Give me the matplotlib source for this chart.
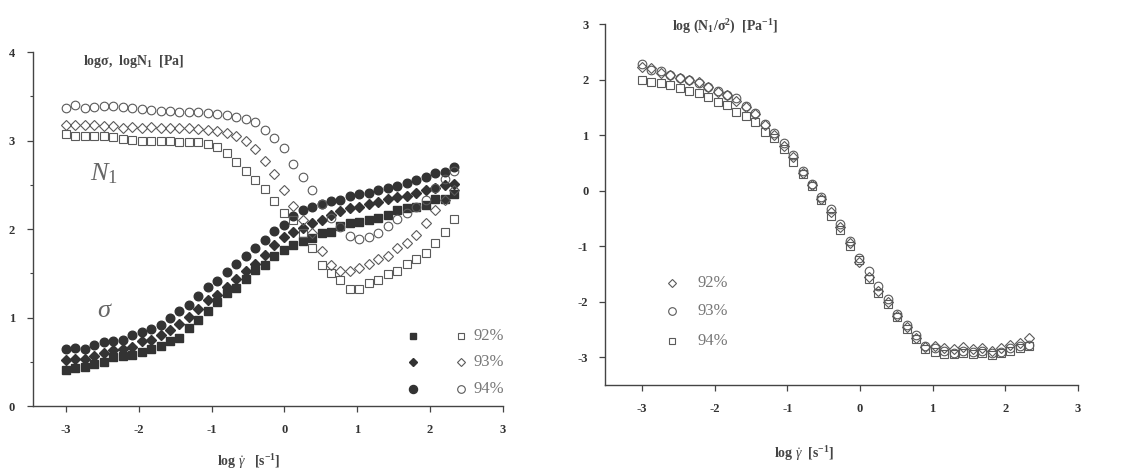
import matplotlib
matplotlib.use('Agg')
import matplotlib.pyplot as plt

plt.rcParams['font.family'] = ['Liberation Serif', 'DejaVu Serif']
plt.rcParams['mathtext.fontset'] = 'custom'
plt.rcParams['mathtext.rm'] = 'Liberation Serif'
plt.rcParams['mathtext.it'] = 'Liberation Serif:italic'
plt.rcParams['mathtext.bf'] = 'Liberation Serif:bold'
plt.rcParams['axes.unicode_minus'] = False

# shear rate grid, log(gamma dot) [1/s]
log_rate = [-3.00, -2.87, -2.74, -2.61, -2.48, -2.35, -2.22, -2.09, -1.96, -1.83,
            -1.70, -1.57, -1.44, -1.31, -1.18, -1.05, -0.92, -0.79, -0.66, -0.53,
            -0.40, -0.27, -0.14, -0.01, 0.12, 0.25, 0.38, 0.51, 0.64, 0.77,
            0.90, 1.03, 1.16, 1.29, 1.42, 1.55, 1.68, 1.81, 1.94, 2.07, 2.20, 2.33]

# log sigma [Pa]
sigma_92 = [0.41, 0.43, 0.44, 0.48, 0.50, 0.55, 0.56, 0.58, 0.61, 0.64,
            0.68, 0.73, 0.77, 0.88, 0.97, 1.07, 1.18, 1.28, 1.33, 1.44,
            1.54, 1.59, 1.69, 1.76, 1.82, 1.87, 1.90, 1.95, 1.97, 2.03,
            2.07, 2.08, 2.10, 2.12, 2.16, 2.21, 2.24, 2.25, 2.27, 2.34, 2.34, 2.39]
sigma_93 = [0.52, 0.53, 0.53, 0.57, 0.60, 0.63, 0.64, 0.67, 0.73, 0.75,
            0.80, 0.86, 0.93, 1.01, 1.10, 1.20, 1.26, 1.35, 1.44, 1.53,
            1.61, 1.71, 1.82, 1.91, 1.97, 2.01, 2.07, 2.10, 2.16, 2.20,
            2.24, 2.25, 2.28, 2.31, 2.34, 2.36, 2.37, 2.41, 2.44, 2.46, 2.50, 2.51]
sigma_94 = [0.64, 0.65, 0.64, 0.69, 0.72, 0.73, 0.75, 0.80, 0.84, 0.87,
            0.92, 0.99, 1.07, 1.14, 1.24, 1.35, 1.41, 1.51, 1.60, 1.70,
            1.78, 1.88, 1.98, 2.05, 2.15, 2.21, 2.25, 2.28, 2.32, 2.33,
            2.37, 2.39, 2.41, 2.44, 2.46, 2.49, 2.52, 2.55, 2.59, 2.63, 2.64, 2.70]

# log N1 [Pa]
n1_92 = [3.07, 3.05, 3.05, 3.05, 3.05, 3.04, 3.02, 3.01, 3.00, 3.00,
         3.00, 2.99, 2.98, 2.98, 2.98, 2.96, 2.93, 2.86, 2.76, 2.66,
         2.55, 2.45, 2.32, 2.18, 2.10, 1.96, 1.78, 1.59, 1.50, 1.42,
         1.32, 1.32, 1.39, 1.42, 1.49, 1.53, 1.61, 1.66, 1.73, 1.84, 1.97, 2.11]
n1_93 = [3.17, 3.18, 3.17, 3.18, 3.16, 3.16, 3.14, 3.15, 3.14, 3.15,
         3.14, 3.14, 3.14, 3.14, 3.13, 3.12, 3.11, 3.08, 3.05, 2.99,
         2.90, 2.77, 2.62, 2.44, 2.26, 2.10, 1.95, 1.75, 1.59, 1.52,
         1.52, 1.56, 1.61, 1.66, 1.69, 1.78, 1.84, 1.93, 2.07, 2.22, 2.33, 2.44]
n1_94 = [3.37, 3.40, 3.37, 3.38, 3.39, 3.39, 3.38, 3.37, 3.36, 3.34,
         3.33, 3.33, 3.32, 3.32, 3.32, 3.31, 3.30, 3.29, 3.27, 3.24,
         3.21, 3.12, 3.03, 2.91, 2.73, 2.59, 2.44, 2.28, 2.12, 2.02,
         1.92, 1.89, 1.91, 1.95, 2.03, 2.11, 2.18, 2.25, 2.33, 2.46, 2.56, 2.65]

# log(N1/sigma^2) [1/Pa]
ratio_92 = [2.22, 2.20, 2.12, 2.08, 2.03, 2.00, 1.96, 1.86, 1.78, 1.72,
            1.62, 1.50, 1.38, 1.18, 1.00, 0.80, 0.60, 0.32, 0.10, -0.15,
            -0.38, -0.65, -0.95, -1.28, -1.55, -1.80, -2.00, -2.25, -2.45, -2.65,
            -2.82, -2.80, -2.83, -2.85, -2.82, -2.85, -2.84, -2.88, -2.83, -2.78, -2.74, -2.66]
ratio_93 = [2.28, 2.18, 2.16, 2.09, 2.02, 1.99, 1.94, 1.87, 1.80, 1.73,
            1.66, 1.52, 1.40, 1.20, 1.04, 0.86, 0.64, 0.36, 0.12, -0.12,
            -0.33, -0.60, -0.90, -1.22, -1.45, -1.72, -1.95, -2.22, -2.42, -2.60,
            -2.80, -2.84, -2.88, -2.92, -2.88, -2.90, -2.88, -2.93, -2.90, -2.84, -2.80, -2.78]
ratio_94 = [1.99, 1.96, 1.93, 1.91, 1.85, 1.80, 1.76, 1.68, 1.60, 1.55,
            1.42, 1.35, 1.24, 1.05, 0.95, 0.75, 0.52, 0.30, 0.08, -0.16,
            -0.45, -0.70, -1.00, -1.25, -1.60, -1.85, -2.05, -2.28, -2.50, -2.68,
            -2.86, -2.90, -2.94, -2.95, -2.92, -2.94, -2.92, -2.96, -2.92, -2.88, -2.84, -2.80]

labels = ['92%', '93%', '94%']

dark = '#333333'
grey = '#5a5a5a'
txt_grey = '#777777'

fig = plt.figure(figsize=(11.27, 4.72), dpi=100)
ax1 = fig.add_axes([0.0293, 0.1398, 0.4170, 0.7500])
ax2 = fig.add_axes([0.5368, 0.1843, 0.4197, 0.7648])


def style_axis(ax):
    for s in ['top', 'right']:
        ax.spines[s].set_visible(False)
    for s in ['left', 'bottom']:
        ax.spines[s].set_color('#444444')
        ax.spines[s].set_linewidth(1.0)
    ax.tick_params(direction='out', length=4, width=0.9, color='#444444',
                   labelsize=9, labelcolor=dark, pad=9)
    ax.tick_params(which='minor', direction='out', length=2.5, width=0.8, color='#444444')
    for lab in ax.get_xticklabels() + ax.get_yticklabels():
        lab.set_fontweight('bold')


# ---- left panel: sigma and N1 ----
ax1.plot(log_rate, sigma_92, 's', ms=5.5, color=dark, mec=dark, clip_on=False)
ax1.plot(log_rate, sigma_93, 'D', ms=4.8, color=dark, mec=dark, clip_on=False)
ax1.plot(log_rate, sigma_94, 'o', ms=6.2, color=dark, mec=dark, clip_on=False)
ax1.plot(log_rate, n1_92, 's', ms=5.5, mfc='none', mec=grey, mew=0.8, clip_on=False)
ax1.plot(log_rate, n1_93, 'D', ms=5.0, mfc='none', mec=grey, mew=0.8, clip_on=False)
ax1.plot(log_rate, n1_94, 'o', ms=6.2, mfc='none', mec=grey, mew=0.8, clip_on=False)

ax1.set_xlim(-3.45, 3)
ax1.set_ylim(0, 4)
ax1.set_xticks([-3, -2, -1, 0, 1, 2, 3])
ax1.set_yticks([0, 1, 2, 3, 4])
ax1.set_yticks([0.5, 1.5, 2.5, 3.5], minor=True)
style_axis(ax1)
ax1.tick_params(axis='y', pad=9)

ax1.text(-2.77, 3.89, 'logσ,  logN$_{\\mathbf{1}}$  [Pa]', fontsize=10,
         fontweight='bold', color='#444444', va='center', ha='left')
ax1.text(-2.48, 2.63, r'$N_1$', fontsize=19, color='#666666', ha='center', va='center')
ax1.text(-2.46, 1.07, r'$\sigma$', fontsize=19, color='#666666', ha='center', va='center')
ax1.set_xlabel(r'log $\dot{\gamma}$   [s$^{\mathbf{-1}}$]', fontsize=10, fontweight='bold',
               color='#444444')
ax1.xaxis.set_label_coords(0.46, -0.13)

# legend of the left panel: filled = sigma, open = N1
leg_y = [0.79, 0.50, 0.19]
filled = [('s', 5.0), ('D', 4.5), ('o', 5.8)]
opened = [('s', 5.0), ('D', 4.5), ('o', 5.5)]
for i in range(3):
    ax1.plot([1.77], [leg_y[i]], filled[i][0], ms=filled[i][1], color=dark, clip_on=False)
    ax1.plot([2.42], [leg_y[i]], opened[i][0], ms=opened[i][1], mfc='none', mec=grey,
             mew=0.8, clip_on=False)
    ax1.text(2.6, leg_y[i], labels[i], fontsize=12, color=txt_grey, va='center', ha='left')

# ---- right panel: N1/sigma^2 ----
ax2.plot(log_rate, ratio_92, 'D', ms=5.0, mfc='none', mec=grey, mew=0.8, clip_on=False)
ax2.plot(log_rate, ratio_93, 'o', ms=6.2, mfc='none', mec=grey, mew=0.8, clip_on=False)
ax2.plot(log_rate, ratio_94, 's', ms=5.5, mfc='none', mec=grey, mew=0.8, clip_on=False)

ax2.set_xlim(-3.51, 3)
ax2.set_ylim(-3.5, 3)
ax2.set_xticks([-3, -2, -1, 0, 1, 2, 3])
ax2.set_yticks([-3, -2, -1, 0, 1, 2, 3])
style_axis(ax2)
ax2.tick_params(axis='y', pad=8)
ax2.spines['left'].set_bounds(-3.5, 3)

ax2.text(-2.59, 2.95, 'log (N$_{\\mathbf{1}}$/σ$^{\\mathbf{2}}$)  [Pa$^{\\mathbf{-1}}$]',
         fontsize=10, fontweight='bold', color='#444444', va='center', ha='left')
ax2.set_xlabel(r'log $\dot{\gamma}$  [s$^{\mathbf{-1}}$]', fontsize=10, fontweight='bold',
               color='#444444')
ax2.xaxis.set_label_coords(0.42, -0.165)

leg2_y = [-1.66, -2.17, -2.71]
markers2 = [('D', 4.5), ('o', 5.5), ('s', 5.0)]
for i in range(3):
    ax2.plot([-2.59], [leg2_y[i]], markers2[i][0], ms=markers2[i][1], mfc='none', mec=grey,
             mew=0.8, clip_on=False)
    ax2.text(-2.24, leg2_y[i], labels[i], fontsize=12, color=txt_grey, va='center', ha='left')

fig.savefig('out.png', dpi=100, facecolor='white')
